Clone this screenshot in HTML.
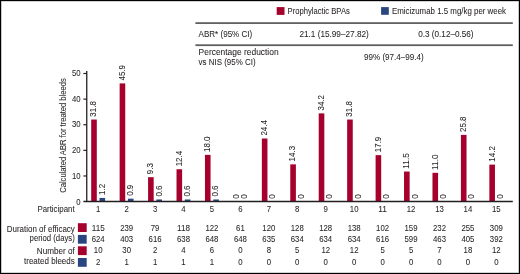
<!DOCTYPE html>
<html><head><meta charset="utf-8"><style>
html,body{margin:0;padding:0;background:#fff;}
#w{position:relative;width:520px;height:274px;overflow:hidden;background:#fff;}
#b{position:absolute;left:0;top:0;width:518px;height:272px;border:1px solid #000;box-shadow:inset 0 0 0 0.6px rgba(0,0,0,0.35);}
svg{position:absolute;left:0;top:0;will-change:transform;filter:blur(0.25px);}
svg text{stroke:#231f20;stroke-width:0.06px;}
svg{font-family:"Liberation Sans", sans-serif;}
</style></head><body><div id="w">
<svg width="520" height="274" viewBox="0 0 520 274">
<rect x="276.70" y="7.10" width="7.80" height="7.80" fill="#a6002c"/>
<text x="287.60" y="13.60" font-size="8.2" textLength="62.20" lengthAdjust="spacingAndGlyphs" fill="#231f20">Prophylactic BPAs</text>
<rect x="381.10" y="7.10" width="7.70" height="7.70" fill="#2a4680"/>
<text x="392.00" y="13.60" font-size="8.2" textLength="114.00" lengthAdjust="spacingAndGlyphs" fill="#231f20">Emicizumab 1.5 mg/kg per week</text>
<rect x="195.40" y="22.20" width="317.40" height="1.80" fill="#606060"/>
<rect x="195.40" y="44.30" width="317.40" height="1.80" fill="#606060"/>
<text x="198.60" y="36.70" font-size="8.3" textLength="53.60" lengthAdjust="spacingAndGlyphs" fill="#231f20">ABR* (95% CI)</text>
<text x="299.40" y="36.70" font-size="8.3" textLength="69.40" lengthAdjust="spacingAndGlyphs" fill="#231f20">21.1 (15.99–27.82)</text>
<text x="418.20" y="36.70" font-size="8.3" textLength="55.40" lengthAdjust="spacingAndGlyphs" fill="#231f20">0.3 (0.12–0.56)</text>
<text x="198.60" y="55.20" font-size="8.3" textLength="80.00" lengthAdjust="spacingAndGlyphs" fill="#231f20">Percentage reduction</text>
<text x="198.60" y="65.00" font-size="8.3" textLength="57.00" lengthAdjust="spacingAndGlyphs" fill="#231f20">vs NIS (95% CI)</text>
<text x="364.00" y="60.40" font-size="8.3" textLength="59.80" lengthAdjust="spacingAndGlyphs" fill="#231f20">99% (97.4–99.4)</text>
<line x1="83.40" y1="175.98" x2="86.75" y2="175.98" stroke="#231f20" stroke-width="1.2"/>
<text x="80.50" y="178.58" font-size="8.6" text-anchor="end" textLength="8.61" lengthAdjust="spacingAndGlyphs" fill="#231f20">10</text>
<line x1="83.40" y1="150.36" x2="86.75" y2="150.36" stroke="#231f20" stroke-width="1.2"/>
<text x="80.50" y="152.96" font-size="8.6" text-anchor="end" textLength="8.61" lengthAdjust="spacingAndGlyphs" fill="#231f20">20</text>
<line x1="83.40" y1="124.74" x2="86.75" y2="124.74" stroke="#231f20" stroke-width="1.2"/>
<text x="80.50" y="127.34" font-size="8.6" text-anchor="end" textLength="8.61" lengthAdjust="spacingAndGlyphs" fill="#231f20">30</text>
<line x1="83.40" y1="99.12" x2="86.75" y2="99.12" stroke="#231f20" stroke-width="1.2"/>
<text x="80.50" y="101.72" font-size="8.6" text-anchor="end" textLength="8.61" lengthAdjust="spacingAndGlyphs" fill="#231f20">40</text>
<line x1="83.40" y1="73.50" x2="86.75" y2="73.50" stroke="#231f20" stroke-width="1.2"/>
<text x="80.50" y="76.10" font-size="8.6" text-anchor="end" textLength="8.61" lengthAdjust="spacingAndGlyphs" fill="#231f20">50</text>
<text x="80.50" y="204.80" font-size="8.6" text-anchor="end" textLength="4.30" lengthAdjust="spacingAndGlyphs" fill="#231f20">0</text>
<text x="66.30" y="192.80" font-size="9.0" textLength="114.60" lengthAdjust="spacingAndGlyphs" transform="rotate(-90 66.30 192.80)" fill="#231f20">Calculated ABR for treated bleeds</text>
<rect x="91.20" y="119.53" width="5.60" height="82.07" fill="#a6002c"/>
<text x="96.38" y="116.63" font-size="8.6" textLength="15.56" lengthAdjust="spacingAndGlyphs" transform="rotate(-90 96.38 116.63)" fill="#231f20">31.8</text>
<rect x="99.50" y="197.93" width="5.60" height="3.67" fill="#2a4680"/>
<text x="104.68" y="195.03" font-size="8.6" textLength="11.12" lengthAdjust="spacingAndGlyphs" transform="rotate(-90 104.68 195.03)" fill="#231f20">1.2</text>
<text x="98.20" y="212.00" font-size="8.2" text-anchor="middle" textLength="4.33" lengthAdjust="spacingAndGlyphs" fill="#231f20">1</text>
<rect x="119.64" y="83.40" width="5.60" height="118.20" fill="#a6002c"/>
<text x="124.82" y="80.50" font-size="8.6" textLength="15.56" lengthAdjust="spacingAndGlyphs" transform="rotate(-90 124.82 80.50)" fill="#231f20">45.9</text>
<rect x="127.94" y="198.69" width="5.60" height="2.91" fill="#2a4680"/>
<text x="133.12" y="195.79" font-size="8.6" textLength="11.12" lengthAdjust="spacingAndGlyphs" transform="rotate(-90 133.12 195.79)" fill="#231f20">0.9</text>
<text x="126.64" y="212.00" font-size="8.2" text-anchor="middle" textLength="4.33" lengthAdjust="spacingAndGlyphs" fill="#231f20">2</text>
<rect x="148.08" y="177.17" width="5.60" height="24.43" fill="#a6002c"/>
<text x="153.26" y="174.27" font-size="8.6" textLength="11.12" lengthAdjust="spacingAndGlyphs" transform="rotate(-90 153.26 174.27)" fill="#231f20">9.3</text>
<rect x="156.38" y="199.46" width="5.60" height="2.14" fill="#2a4680"/>
<text x="161.56" y="196.56" font-size="8.6" textLength="11.12" lengthAdjust="spacingAndGlyphs" transform="rotate(-90 161.56 196.56)" fill="#231f20">0.6</text>
<text x="155.08" y="212.00" font-size="8.2" text-anchor="middle" textLength="4.33" lengthAdjust="spacingAndGlyphs" fill="#231f20">3</text>
<rect x="176.52" y="169.23" width="5.60" height="32.37" fill="#a6002c"/>
<text x="181.70" y="166.33" font-size="8.6" textLength="15.56" lengthAdjust="spacingAndGlyphs" transform="rotate(-90 181.70 166.33)" fill="#231f20">12.4</text>
<rect x="184.82" y="199.46" width="5.60" height="2.14" fill="#2a4680"/>
<text x="190.00" y="196.56" font-size="8.6" textLength="11.12" lengthAdjust="spacingAndGlyphs" transform="rotate(-90 190.00 196.56)" fill="#231f20">0.6</text>
<text x="183.52" y="212.00" font-size="8.2" text-anchor="middle" textLength="4.33" lengthAdjust="spacingAndGlyphs" fill="#231f20">4</text>
<rect x="204.96" y="154.88" width="5.60" height="46.72" fill="#a6002c"/>
<text x="210.14" y="151.98" font-size="8.6" textLength="15.56" lengthAdjust="spacingAndGlyphs" transform="rotate(-90 210.14 151.98)" fill="#231f20">18.0</text>
<rect x="213.26" y="199.46" width="5.60" height="2.14" fill="#2a4680"/>
<text x="218.44" y="196.56" font-size="8.6" textLength="11.12" lengthAdjust="spacingAndGlyphs" transform="rotate(-90 218.44 196.56)" fill="#231f20">0.6</text>
<text x="211.96" y="212.00" font-size="8.2" text-anchor="middle" textLength="4.33" lengthAdjust="spacingAndGlyphs" fill="#231f20">5</text>
<text x="238.58" y="198.70" font-size="8.6" textLength="4.45" lengthAdjust="spacingAndGlyphs" transform="rotate(-90 238.58 198.70)" fill="#231f20">0</text>
<text x="246.88" y="198.70" font-size="8.6" textLength="4.45" lengthAdjust="spacingAndGlyphs" transform="rotate(-90 246.88 198.70)" fill="#231f20">0</text>
<text x="240.40" y="212.00" font-size="8.2" text-anchor="middle" textLength="4.33" lengthAdjust="spacingAndGlyphs" fill="#231f20">6</text>
<rect x="261.84" y="138.49" width="5.60" height="63.11" fill="#a6002c"/>
<text x="267.02" y="135.59" font-size="8.6" textLength="15.56" lengthAdjust="spacingAndGlyphs" transform="rotate(-90 267.02 135.59)" fill="#231f20">24.4</text>
<text x="275.32" y="198.70" font-size="8.6" textLength="4.45" lengthAdjust="spacingAndGlyphs" transform="rotate(-90 275.32 198.70)" fill="#231f20">0</text>
<text x="268.84" y="212.00" font-size="8.2" text-anchor="middle" textLength="4.33" lengthAdjust="spacingAndGlyphs" fill="#231f20">7</text>
<rect x="290.28" y="164.36" width="5.60" height="37.24" fill="#a6002c"/>
<text x="295.46" y="161.46" font-size="8.6" textLength="15.56" lengthAdjust="spacingAndGlyphs" transform="rotate(-90 295.46 161.46)" fill="#231f20">14.3</text>
<text x="303.76" y="198.70" font-size="8.6" textLength="4.45" lengthAdjust="spacingAndGlyphs" transform="rotate(-90 303.76 198.70)" fill="#231f20">0</text>
<text x="297.28" y="212.00" font-size="8.2" text-anchor="middle" textLength="4.33" lengthAdjust="spacingAndGlyphs" fill="#231f20">8</text>
<rect x="318.72" y="113.38" width="5.60" height="88.22" fill="#a6002c"/>
<text x="323.90" y="110.48" font-size="8.6" textLength="15.56" lengthAdjust="spacingAndGlyphs" transform="rotate(-90 323.90 110.48)" fill="#231f20">34.2</text>
<text x="332.20" y="198.70" font-size="8.6" textLength="4.45" lengthAdjust="spacingAndGlyphs" transform="rotate(-90 332.20 198.70)" fill="#231f20">0</text>
<text x="325.72" y="212.00" font-size="8.2" text-anchor="middle" textLength="4.33" lengthAdjust="spacingAndGlyphs" fill="#231f20">9</text>
<rect x="347.16" y="119.53" width="5.60" height="82.07" fill="#a6002c"/>
<text x="352.34" y="116.63" font-size="8.6" textLength="15.56" lengthAdjust="spacingAndGlyphs" transform="rotate(-90 352.34 116.63)" fill="#231f20">31.8</text>
<text x="360.64" y="198.70" font-size="8.6" textLength="4.45" lengthAdjust="spacingAndGlyphs" transform="rotate(-90 360.64 198.70)" fill="#231f20">0</text>
<text x="354.16" y="212.00" font-size="8.2" text-anchor="middle" textLength="8.66" lengthAdjust="spacingAndGlyphs" fill="#231f20">10</text>
<rect x="375.60" y="155.14" width="5.60" height="46.46" fill="#a6002c"/>
<text x="380.78" y="152.24" font-size="8.6" textLength="15.56" lengthAdjust="spacingAndGlyphs" transform="rotate(-90 380.78 152.24)" fill="#231f20">17.9</text>
<text x="389.08" y="198.70" font-size="8.6" textLength="4.45" lengthAdjust="spacingAndGlyphs" transform="rotate(-90 389.08 198.70)" fill="#231f20">0</text>
<text x="382.60" y="212.00" font-size="8.2" text-anchor="middle" textLength="8.66" lengthAdjust="spacingAndGlyphs" fill="#231f20">11</text>
<rect x="404.04" y="171.54" width="5.60" height="30.06" fill="#a6002c"/>
<text x="409.22" y="168.64" font-size="8.6" textLength="15.56" lengthAdjust="spacingAndGlyphs" transform="rotate(-90 409.22 168.64)" fill="#231f20">11.5</text>
<text x="417.52" y="198.70" font-size="8.6" textLength="4.45" lengthAdjust="spacingAndGlyphs" transform="rotate(-90 417.52 198.70)" fill="#231f20">0</text>
<text x="411.04" y="212.00" font-size="8.2" text-anchor="middle" textLength="8.66" lengthAdjust="spacingAndGlyphs" fill="#231f20">12</text>
<rect x="432.48" y="172.82" width="5.60" height="28.78" fill="#a6002c"/>
<text x="437.66" y="169.92" font-size="8.6" textLength="15.56" lengthAdjust="spacingAndGlyphs" transform="rotate(-90 437.66 169.92)" fill="#231f20">11.0</text>
<text x="445.96" y="198.70" font-size="8.6" textLength="4.45" lengthAdjust="spacingAndGlyphs" transform="rotate(-90 445.96 198.70)" fill="#231f20">0</text>
<text x="439.48" y="212.00" font-size="8.2" text-anchor="middle" textLength="8.66" lengthAdjust="spacingAndGlyphs" fill="#231f20">13</text>
<rect x="460.92" y="134.90" width="5.60" height="66.70" fill="#a6002c"/>
<text x="466.10" y="132.00" font-size="8.6" textLength="15.56" lengthAdjust="spacingAndGlyphs" transform="rotate(-90 466.10 132.00)" fill="#231f20">25.8</text>
<text x="474.40" y="198.70" font-size="8.6" textLength="4.45" lengthAdjust="spacingAndGlyphs" transform="rotate(-90 474.40 198.70)" fill="#231f20">0</text>
<text x="467.92" y="212.00" font-size="8.2" text-anchor="middle" textLength="8.66" lengthAdjust="spacingAndGlyphs" fill="#231f20">14</text>
<rect x="489.36" y="164.62" width="5.60" height="36.98" fill="#a6002c"/>
<text x="494.54" y="161.72" font-size="8.6" textLength="15.56" lengthAdjust="spacingAndGlyphs" transform="rotate(-90 494.54 161.72)" fill="#231f20">14.2</text>
<text x="502.84" y="198.70" font-size="8.6" textLength="4.45" lengthAdjust="spacingAndGlyphs" transform="rotate(-90 502.84 198.70)" fill="#231f20">0</text>
<text x="496.36" y="212.00" font-size="8.2" text-anchor="middle" textLength="8.66" lengthAdjust="spacingAndGlyphs" fill="#231f20">15</text>
<line x1="86.75" y1="70.90" x2="86.75" y2="201.60" stroke="#231f20" stroke-width="1.3"/>
<line x1="83.40" y1="201.50" x2="512.80" y2="201.50" stroke="#231f20" stroke-width="1.4"/>
<text x="74.60" y="212.20" font-size="8.2" text-anchor="end" textLength="37.20" lengthAdjust="spacingAndGlyphs" fill="#231f20">Participant</text>
<text x="74.80" y="231.50" font-size="8.2" text-anchor="end" textLength="68.00" lengthAdjust="spacingAndGlyphs" fill="#231f20">Duration of efficacy</text>
<text x="74.80" y="241.00" font-size="8.2" text-anchor="end" textLength="45.20" lengthAdjust="spacingAndGlyphs" fill="#231f20">period (days)</text>
<text x="74.80" y="254.40" font-size="8.2" text-anchor="end" textLength="38.00" lengthAdjust="spacingAndGlyphs" fill="#231f20">Number of</text>
<text x="74.80" y="263.60" font-size="8.2" text-anchor="end" textLength="50.80" lengthAdjust="spacingAndGlyphs" fill="#231f20">treated bleeds</text>
<rect x="77.90" y="223.20" width="8.80" height="8.80" fill="#a6002c"/>
<rect x="77.90" y="234.90" width="8.80" height="8.80" fill="#2a4680"/>
<rect x="77.90" y="246.30" width="8.80" height="8.80" fill="#a6002c"/>
<rect x="77.90" y="258.00" width="8.80" height="8.80" fill="#2a4680"/>
<text x="98.20" y="230.60" font-size="8.2" text-anchor="middle" textLength="12.99" lengthAdjust="spacingAndGlyphs" fill="#231f20">115</text>
<text x="126.64" y="230.60" font-size="8.2" text-anchor="middle" textLength="12.99" lengthAdjust="spacingAndGlyphs" fill="#231f20">239</text>
<text x="155.08" y="230.60" font-size="8.2" text-anchor="middle" textLength="8.66" lengthAdjust="spacingAndGlyphs" fill="#231f20">79</text>
<text x="183.52" y="230.60" font-size="8.2" text-anchor="middle" textLength="12.99" lengthAdjust="spacingAndGlyphs" fill="#231f20">118</text>
<text x="211.96" y="230.60" font-size="8.2" text-anchor="middle" textLength="12.99" lengthAdjust="spacingAndGlyphs" fill="#231f20">122</text>
<text x="240.40" y="230.60" font-size="8.2" text-anchor="middle" textLength="8.66" lengthAdjust="spacingAndGlyphs" fill="#231f20">61</text>
<text x="268.84" y="230.60" font-size="8.2" text-anchor="middle" textLength="12.99" lengthAdjust="spacingAndGlyphs" fill="#231f20">120</text>
<text x="297.28" y="230.60" font-size="8.2" text-anchor="middle" textLength="12.99" lengthAdjust="spacingAndGlyphs" fill="#231f20">128</text>
<text x="325.72" y="230.60" font-size="8.2" text-anchor="middle" textLength="12.99" lengthAdjust="spacingAndGlyphs" fill="#231f20">128</text>
<text x="354.16" y="230.60" font-size="8.2" text-anchor="middle" textLength="12.99" lengthAdjust="spacingAndGlyphs" fill="#231f20">138</text>
<text x="382.60" y="230.60" font-size="8.2" text-anchor="middle" textLength="12.99" lengthAdjust="spacingAndGlyphs" fill="#231f20">102</text>
<text x="411.04" y="230.60" font-size="8.2" text-anchor="middle" textLength="12.99" lengthAdjust="spacingAndGlyphs" fill="#231f20">159</text>
<text x="439.48" y="230.60" font-size="8.2" text-anchor="middle" textLength="12.99" lengthAdjust="spacingAndGlyphs" fill="#231f20">232</text>
<text x="467.92" y="230.60" font-size="8.2" text-anchor="middle" textLength="12.99" lengthAdjust="spacingAndGlyphs" fill="#231f20">255</text>
<text x="496.36" y="230.60" font-size="8.2" text-anchor="middle" textLength="12.99" lengthAdjust="spacingAndGlyphs" fill="#231f20">309</text>
<text x="98.20" y="241.90" font-size="8.2" text-anchor="middle" textLength="12.99" lengthAdjust="spacingAndGlyphs" fill="#231f20">624</text>
<text x="126.64" y="241.90" font-size="8.2" text-anchor="middle" textLength="12.99" lengthAdjust="spacingAndGlyphs" fill="#231f20">403</text>
<text x="155.08" y="241.90" font-size="8.2" text-anchor="middle" textLength="12.99" lengthAdjust="spacingAndGlyphs" fill="#231f20">616</text>
<text x="183.52" y="241.90" font-size="8.2" text-anchor="middle" textLength="12.99" lengthAdjust="spacingAndGlyphs" fill="#231f20">638</text>
<text x="211.96" y="241.90" font-size="8.2" text-anchor="middle" textLength="12.99" lengthAdjust="spacingAndGlyphs" fill="#231f20">648</text>
<text x="240.40" y="241.90" font-size="8.2" text-anchor="middle" textLength="12.99" lengthAdjust="spacingAndGlyphs" fill="#231f20">648</text>
<text x="268.84" y="241.90" font-size="8.2" text-anchor="middle" textLength="12.99" lengthAdjust="spacingAndGlyphs" fill="#231f20">635</text>
<text x="297.28" y="241.90" font-size="8.2" text-anchor="middle" textLength="12.99" lengthAdjust="spacingAndGlyphs" fill="#231f20">634</text>
<text x="325.72" y="241.90" font-size="8.2" text-anchor="middle" textLength="12.99" lengthAdjust="spacingAndGlyphs" fill="#231f20">634</text>
<text x="354.16" y="241.90" font-size="8.2" text-anchor="middle" textLength="12.99" lengthAdjust="spacingAndGlyphs" fill="#231f20">634</text>
<text x="382.60" y="241.90" font-size="8.2" text-anchor="middle" textLength="12.99" lengthAdjust="spacingAndGlyphs" fill="#231f20">616</text>
<text x="411.04" y="241.90" font-size="8.2" text-anchor="middle" textLength="12.99" lengthAdjust="spacingAndGlyphs" fill="#231f20">599</text>
<text x="439.48" y="241.90" font-size="8.2" text-anchor="middle" textLength="12.99" lengthAdjust="spacingAndGlyphs" fill="#231f20">463</text>
<text x="467.92" y="241.90" font-size="8.2" text-anchor="middle" textLength="12.99" lengthAdjust="spacingAndGlyphs" fill="#231f20">405</text>
<text x="496.36" y="241.90" font-size="8.2" text-anchor="middle" textLength="12.99" lengthAdjust="spacingAndGlyphs" fill="#231f20">392</text>
<text x="98.20" y="252.90" font-size="8.2" text-anchor="middle" textLength="8.66" lengthAdjust="spacingAndGlyphs" fill="#231f20">10</text>
<text x="126.64" y="252.90" font-size="8.2" text-anchor="middle" textLength="8.66" lengthAdjust="spacingAndGlyphs" fill="#231f20">30</text>
<text x="155.08" y="252.90" font-size="8.2" text-anchor="middle" textLength="4.33" lengthAdjust="spacingAndGlyphs" fill="#231f20">2</text>
<text x="183.52" y="252.90" font-size="8.2" text-anchor="middle" textLength="4.33" lengthAdjust="spacingAndGlyphs" fill="#231f20">4</text>
<text x="211.96" y="252.90" font-size="8.2" text-anchor="middle" textLength="4.33" lengthAdjust="spacingAndGlyphs" fill="#231f20">6</text>
<text x="240.40" y="252.90" font-size="8.2" text-anchor="middle" textLength="4.33" lengthAdjust="spacingAndGlyphs" fill="#231f20">0</text>
<text x="268.84" y="252.90" font-size="8.2" text-anchor="middle" textLength="4.33" lengthAdjust="spacingAndGlyphs" fill="#231f20">8</text>
<text x="297.28" y="252.90" font-size="8.2" text-anchor="middle" textLength="4.33" lengthAdjust="spacingAndGlyphs" fill="#231f20">5</text>
<text x="325.72" y="252.90" font-size="8.2" text-anchor="middle" textLength="8.66" lengthAdjust="spacingAndGlyphs" fill="#231f20">12</text>
<text x="354.16" y="252.90" font-size="8.2" text-anchor="middle" textLength="8.66" lengthAdjust="spacingAndGlyphs" fill="#231f20">12</text>
<text x="382.60" y="252.90" font-size="8.2" text-anchor="middle" textLength="4.33" lengthAdjust="spacingAndGlyphs" fill="#231f20">5</text>
<text x="411.04" y="252.90" font-size="8.2" text-anchor="middle" textLength="4.33" lengthAdjust="spacingAndGlyphs" fill="#231f20">5</text>
<text x="439.48" y="252.90" font-size="8.2" text-anchor="middle" textLength="4.33" lengthAdjust="spacingAndGlyphs" fill="#231f20">7</text>
<text x="467.92" y="252.90" font-size="8.2" text-anchor="middle" textLength="8.66" lengthAdjust="spacingAndGlyphs" fill="#231f20">18</text>
<text x="496.36" y="252.90" font-size="8.2" text-anchor="middle" textLength="8.66" lengthAdjust="spacingAndGlyphs" fill="#231f20">12</text>
<text x="98.20" y="264.60" font-size="8.2" text-anchor="middle" textLength="4.33" lengthAdjust="spacingAndGlyphs" fill="#231f20">2</text>
<text x="126.64" y="264.60" font-size="8.2" text-anchor="middle" textLength="4.33" lengthAdjust="spacingAndGlyphs" fill="#231f20">1</text>
<text x="155.08" y="264.60" font-size="8.2" text-anchor="middle" textLength="4.33" lengthAdjust="spacingAndGlyphs" fill="#231f20">1</text>
<text x="183.52" y="264.60" font-size="8.2" text-anchor="middle" textLength="4.33" lengthAdjust="spacingAndGlyphs" fill="#231f20">1</text>
<text x="211.96" y="264.60" font-size="8.2" text-anchor="middle" textLength="4.33" lengthAdjust="spacingAndGlyphs" fill="#231f20">1</text>
<text x="240.40" y="264.60" font-size="8.2" text-anchor="middle" textLength="4.33" lengthAdjust="spacingAndGlyphs" fill="#231f20">0</text>
<text x="268.84" y="264.60" font-size="8.2" text-anchor="middle" textLength="4.33" lengthAdjust="spacingAndGlyphs" fill="#231f20">0</text>
<text x="297.28" y="264.60" font-size="8.2" text-anchor="middle" textLength="4.33" lengthAdjust="spacingAndGlyphs" fill="#231f20">0</text>
<text x="325.72" y="264.60" font-size="8.2" text-anchor="middle" textLength="4.33" lengthAdjust="spacingAndGlyphs" fill="#231f20">0</text>
<text x="354.16" y="264.60" font-size="8.2" text-anchor="middle" textLength="4.33" lengthAdjust="spacingAndGlyphs" fill="#231f20">0</text>
<text x="382.60" y="264.60" font-size="8.2" text-anchor="middle" textLength="4.33" lengthAdjust="spacingAndGlyphs" fill="#231f20">0</text>
<text x="411.04" y="264.60" font-size="8.2" text-anchor="middle" textLength="4.33" lengthAdjust="spacingAndGlyphs" fill="#231f20">0</text>
<text x="439.48" y="264.60" font-size="8.2" text-anchor="middle" textLength="4.33" lengthAdjust="spacingAndGlyphs" fill="#231f20">0</text>
<text x="467.92" y="264.60" font-size="8.2" text-anchor="middle" textLength="4.33" lengthAdjust="spacingAndGlyphs" fill="#231f20">0</text>
<text x="496.36" y="264.60" font-size="8.2" text-anchor="middle" textLength="4.33" lengthAdjust="spacingAndGlyphs" fill="#231f20">0</text>
</svg>
<div id="b"></div>
</div></body></html>
